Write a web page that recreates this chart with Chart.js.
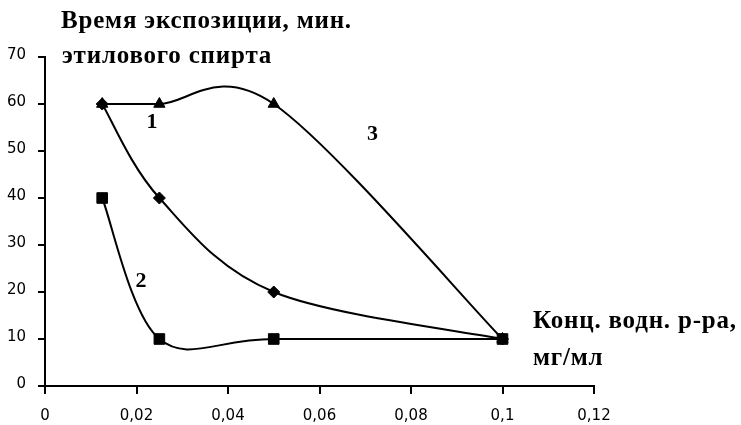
<!DOCTYPE html>
<html><head><meta charset="utf-8">
<script src="https://cdn.jsdelivr.net/npm/chart.js@4/dist/chart.umd.min.js"></script>
<style>html,body{margin:0;padding:0;background:#fff}#wrap{width:741px;height:425px}</style>
</head><body><div id="wrap"><canvas id="c" width="741" height="425"></canvas></div>
<script>
const xValues = [0.0125, 0.025, 0.05, 0.1];
const series1 = [60, 40, 20, 10];   // diamonds
const series2 = [40, 10, 10, 10];   // squares
const series3 = [60, 60, 60, 10];   // triangles
const xTicks = [0, 0.02, 0.04, 0.06, 0.08, 0.1, 0.12];
const xTickLabels = ['0', '0,02', '0,04', '0,06', '0,08', '0,1', '0,12'];
const yTicks = [0, 10, 20, 30, 40, 50, 60, 70];
const yTickLabels = ['0', '10', '20', '30', '40', '50', '60', '70'];
const yTitle = ['Время экспозиции, мин.', 'этилового спирта'];
const xTitle = ['Конц. водн. р-ра,', 'мг/мл'];
const curveLabels = ['1', '2', '3'];
const curveLabelX = [0.0234, 0.021, 0.0716];
const curveLabelY = [56.2, 22.2, 53.5];

function pts(ys){ return xValues.map((x,i)=>({x:x, y:ys[i]})); }

const serif = '"Liberation Serif", "Times New Roman", serif';

// Excel-like smoothing (Catmull-Rom through the points, 1/6 tangents)
const smoothPlugin = {
  id: 'excelSmooth',
  beforeDatasetDraw(chart, args){
    const meta = args.meta, line = meta.dataset, p = meta.data, n = p.length;
    if (!line || n < 2) return;
    line.updateControlPoints(chart.chartArea, 'x');
    for (let i = 0; i < n; i++){
      const a = p[Math.max(i-1,0)], b = p[i], c = p[Math.min(i+1,n-1)];
      const tx = (c.x - a.x)/6, ty = (c.y - a.y)/6;
      b.cp1x = b.x - tx; b.cp1y = b.y - ty;
      b.cp2x = b.x + tx; b.cp2y = b.y + ty;
    }
  }
};

const textPlugin = {
  id: 'texts',
  afterDraw(chart){
    const ctx = chart.ctx, xs = chart.scales.x, ys = chart.scales.y;
    ctx.save();
    ctx.fillStyle = '#000';
    ctx.font = 'bold 25px ' + serif;
    try { ctx.letterSpacing = '0.8px'; } catch(e) {}
    ctx.textBaseline = 'alphabetic';
    ctx.textAlign = 'left';
    ctx.fillText(yTitle[0], 61, 28);
    ctx.fillText(yTitle[1], 62, 63);
    ctx.fillText(xTitle[0], 533, 328);
    ctx.fillText(xTitle[1], 533, 365);
    try { ctx.letterSpacing = '0px'; } catch(e) {}
    ctx.font = 'bold 22px ' + serif;
    ctx.textAlign = 'center';
    ctx.textBaseline = 'middle';
    curveLabels.forEach((t,i)=>{
      ctx.fillText(t, xs.getPixelForValue(curveLabelX[i]), ys.getPixelForValue(curveLabelY[i]));
    });
    ctx.restore();
  }
};

const common = {borderColor:'#000', backgroundColor:'#000', borderWidth:2, tension:0.4, pointBorderWidth:1, pointBorderColor:'#000', pointBackgroundColor:'#000'};
const tickFont = {family:'"DejaVu Sans", Arial, sans-serif', size:15};

new Chart(document.getElementById('c'), {
  type: 'line',
  data: {
    datasets: [
      Object.assign({label:'1', data: pts(series1), pointStyle:'rectRot', pointRadius:6}, common),
      Object.assign({label:'2', data: pts(series2), pointStyle:'rect', pointRadius:7.5}, common),
      Object.assign({label:'3', data: pts(series3), pointStyle:'triangle', pointRadius:6.5}, common)
    ]
  },
  options: {
    responsive: false,
    animation: false,
    devicePixelRatio: 1,
    layout: {padding: {left: 0, right: 147, top: 57, bottom: 0}},
    plugins: {legend:{display:false}, tooltip:{enabled:false}},
    scales: {
      x: {
        type: 'linear', min: 0, max: 0.12,
        afterBuildTicks(s){ s.ticks = xTicks.map(v=>({value:v})); },
        afterFit(s){ s.height = 39; },
        grid: {display:true, drawOnChartArea:false, drawTicks:true, tickLength:8, color:'#000', lineWidth:2},
        border: {display:true, color:'#000', width:2},
        ticks: {color:'#000', padding:13, maxRotation:0, autoSkip:false, font:tickFont,
          callback:(v,i)=>xTickLabels[i]}
      },
      y: {
        type: 'linear', min: 0, max: 70,
        afterBuildTicks(s){ s.ticks = yTicks.map(v=>({value:v})); },
        afterFit(s){ s.width = 45; },
        grid: {display:true, drawOnChartArea:false, drawTicks:true, tickLength:7, color:'#000', lineWidth:2},
        border: {display:true, color:'#000', width:2},
        ticks: {color:'#000', padding:12, labelOffset:-1.5, autoSkip:false, font:tickFont,
          callback:(v,i)=>yTickLabels[i]}
      }
    }
  },
  plugins: [smoothPlugin, textPlugin]
});
</script></body></html>
